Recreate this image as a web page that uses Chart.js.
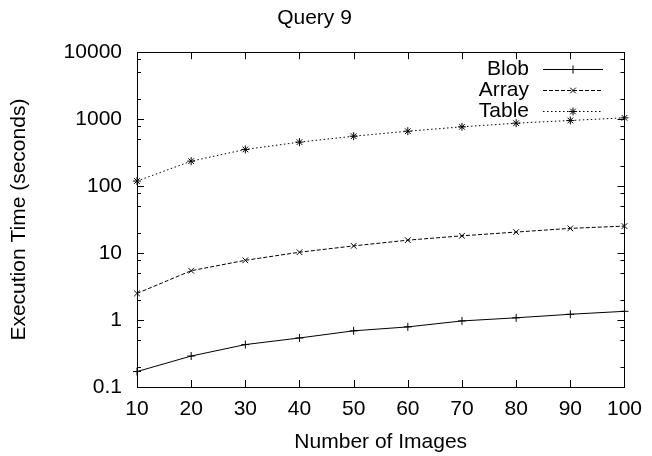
<!DOCTYPE html>
<html lang="en">
<head>
    <meta charset="UTF-8">
    <title>Query 9</title>
    <script src="https://cdn.jsdelivr.net/npm/chart.js"></script>
    <style>
body {
  margin: 0;
  padding: 0;
  background-color: #fff;
}

#chartContainer {
  width: 652px;
  height: 456px;
}
    </style>
</head>
<body>
    <div id="chartContainer">
        <canvas id="myChart" width="652" height="456"></canvas>
    </div>

    <script>
        // Data
        const images = [10, 20, 30, 40, 50, 60, 70, 80, 90, 100];
        const blobTimes = [0.17, 0.29, 0.43, 0.54, 0.69, 0.79, 0.97, 1.08, 1.22, 1.35];
        const arrayTimes = [2.5, 5.45, 7.8, 10.3, 12.8, 15.6, 18.1, 20.6, 23.4, 25.3];
        const tableTimes = [119, 236, 353, 454, 557, 661, 768, 871, 956, 1047];

        const seriesNames = ['Blob', 'Array', 'Table'];
        const yMajorTicks = [0.1, 1, 10, 100, 1000, 10000];
        const yMinorFactors = [2, 5, 8];
        const xTicks = [10, 20, 30, 40, 50, 60, 70, 80, 90, 100];

        const fontFamily = '"Liberation Sans", Arial, sans-serif';
        Chart.defaults.font.family = fontFamily;
        Chart.defaults.color = '#000';

        function toPoints(values) {
            return images.map(function (x, i) {
                return { x: x, y: values[i] };
            });
        }

        // inward ticks on all four sides + frame, gnuplot style
        const framePlugin = {
            id: 'frame',
            afterDatasetsDraw: function (chart) {
                const ctx = chart.ctx;
                const area = chart.chartArea;
                const xs = chart.scales.x;
                const ys = chart.scales.y;
                ctx.save();
                ctx.strokeStyle = '#000';
                ctx.lineWidth = 1;
                ctx.beginPath();
                xTicks.forEach(function (v) {
                    const px = Math.round(xs.getPixelForValue(v)) + 0.5;
                    ctx.moveTo(px, area.bottom);
                    ctx.lineTo(px, area.bottom - 7);
                    ctx.moveTo(px, area.top);
                    ctx.lineTo(px, area.top + 7);
                });
                yMajorTicks.forEach(function (v, i) {
                    const py = Math.round(ys.getPixelForValue(v)) + 0.5;
                    ctx.moveTo(area.left, py);
                    ctx.lineTo(area.left + 7, py);
                    ctx.moveTo(area.right, py);
                    ctx.lineTo(area.right - 7, py);
                    if (i < yMajorTicks.length - 1) {
                        yMinorFactors.forEach(function (f) {
                            const my = Math.round(ys.getPixelForValue(v * f)) + 0.5;
                            ctx.moveTo(area.left, my);
                            ctx.lineTo(area.left + 4, my);
                            ctx.moveTo(area.right, my);
                            ctx.lineTo(area.right - 4, my);
                        });
                    }
                });
                ctx.stroke();
                ctx.strokeRect(Math.round(area.left) + 0.5, Math.round(area.top) + 0.5,
                    Math.round(area.right - area.left), Math.round(area.bottom - area.top));
                ctx.restore();
            }
        };

        // key in the top right corner: text right-aligned, sample to its right
        const keyPlugin = {
            id: 'key',
            afterDraw: function (chart) {
                const ctx = chart.ctx;
                const textRight = 529;
                const lineStart = 543;
                const lineEnd = 603;
                ctx.save();
                ctx.font = '21px ' + fontFamily;
                ctx.textAlign = 'right';
                ctx.textBaseline = 'middle';
                chart.data.datasets.forEach(function (ds, i) {
                    const y = 69 + i * 21;
                    ctx.fillStyle = '#000';
                    ctx.fillText(ds.label, textRight, y);
                    ctx.strokeStyle = ds.borderColor;
                    ctx.lineWidth = ds.borderWidth;
                    ctx.setLineDash(ds.borderDash || []);
                    ctx.beginPath();
                    ctx.moveTo(lineStart, y + 0.5);
                    ctx.lineTo(lineEnd, y + 0.5);
                    ctx.stroke();
                    ctx.setLineDash([]);
                    Chart.helpers.drawPoint(ctx, {
                        pointStyle: ds.pointStyle,
                        radius: ds.pointRadius,
                        borderWidth: 1
                    }, (lineStart + lineEnd) / 2, y + 0.5);
                });
                ctx.restore();
            }
        };

        const ctx = document.getElementById('myChart').getContext('2d');
        const myChart = new Chart(ctx, {
            type: 'line',
            data: {
                datasets: [{
                    label: seriesNames[0],
                    data: toPoints(blobTimes),
                    borderColor: '#000',
                    backgroundColor: '#000',
                    borderWidth: 1,
                    pointStyle: 'cross',
                    pointRadius: 4,
                    pointBorderWidth: 1,
                    clip: false
                }, {
                    label: seriesNames[1],
                    data: toPoints(arrayTimes),
                    borderColor: '#000',
                    backgroundColor: '#000',
                    borderWidth: 1,
                    borderDash: [4, 2],
                    pointStyle: 'crossRot',
                    pointRadius: 4,
                    pointBorderWidth: 1,
                    clip: false
                }, {
                    label: seriesNames[2],
                    data: toPoints(tableTimes),
                    borderColor: '#000',
                    backgroundColor: '#000',
                    borderWidth: 1,
                    borderDash: [1.5, 2.5],
                    pointStyle: 'star',
                    pointRadius: 4,
                    pointBorderWidth: 1,
                    clip: false
                }]
            },
            options: {
                responsive: false,
                animation: false,
                layout: {
                    padding: { left: 0, right: 23, top: 0, bottom: 0 }
                },
                plugins: {
                    legend: { display: false },
                    tooltip: { enabled: false },
                    title: {
                        display: true,
                        text: 'Query 9',
                        color: '#000',
                        font: { size: 21, weight: 'normal' },
                        padding: { top: 6, bottom: 21 }
                    }
                },
                scales: {
                    x: {
                        type: 'linear',
                        min: 10,
                        max: 100,
                        afterBuildTicks: function (scale) {
                            scale.ticks = xTicks.map(function (v) { return { value: v }; });
                        },
                        afterFit: function (scale) {
                            scale.height = 69;
                        },
                        grid: { display: false, drawTicks: false },
                        border: { display: false },
                        ticks: {
                            padding: 10,
                            maxRotation: 0,
                            autoSkip: false,
                            font: { size: 21 },
                            color: '#000'
                        },
                        title: {
                            display: true,
                            text: 'Number of Images',
                            font: { size: 21 },
                            color: '#000',
                            padding: { top: 0, bottom: 1 }
                        }
                    },
                    y: {
                        type: 'logarithmic',
                        min: 0.1,
                        max: 10000,
                        afterBuildTicks: function (scale) {
                            scale.ticks = yMajorTicks.map(function (v) { return { value: v }; });
                        },
                        afterFit: function (scale) {
                            scale.width = 137;
                        },
                        grid: { display: false, drawTicks: false },
                        border: { display: false },
                        ticks: {
                            padding: 15,
                            font: { size: 21 },
                            color: '#000',
                            callback: function (value) {
                                return String(value);
                            }
                        },
                        title: {
                            display: true,
                            text: 'Execution Time (seconds)',
                            font: { size: 21 },
                            color: '#000',
                            padding: { top: 7, bottom: 0 }
                        }
                    }
                }
            },
            plugins: [framePlugin, keyPlugin]
        });
    </script>
</body>
</html>
